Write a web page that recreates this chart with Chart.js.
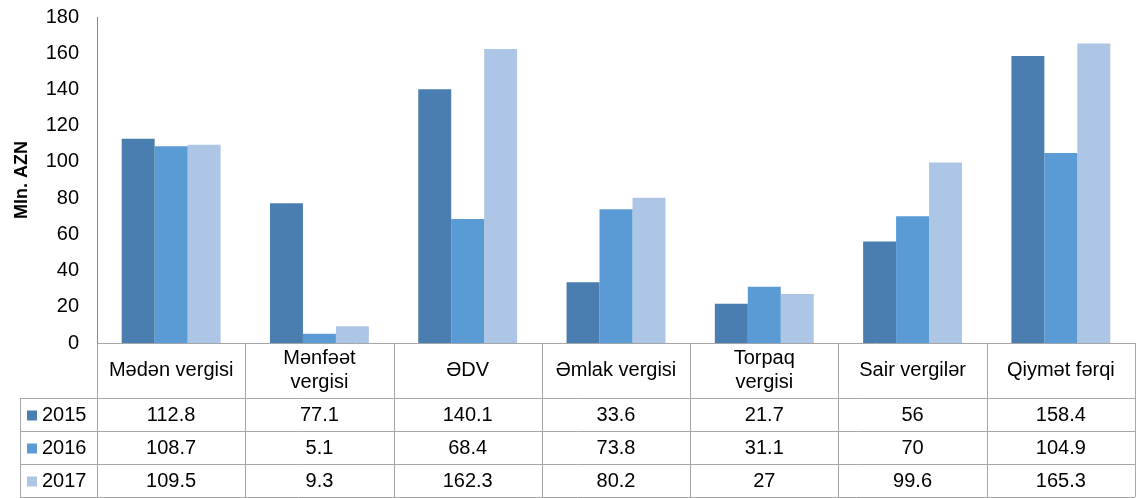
<!DOCTYPE html>
<html>
<head>
<meta charset="utf-8">
<script src="https://cdn.jsdelivr.net/npm/chart.js@4/dist/chart.umd.min.js"></script>
<style>
  html, body { margin: 0; padding: 0; background: #fff; }
  #wrap { width: 1137px; height: 498px; position: relative; }
</style>
</head>
<body>
<div id="wrap"><canvas id="myChart" width="1137" height="498"></canvas></div>
<script>
var ctx = document.getElementById("myChart").getContext('2d');

const categories = ['Mədən vergisi', ['Mənfəət', 'vergisi'], 'ƏDV', 'Əmlak vergisi', ['Torpaq', 'vergisi'], 'Sair vergilər', 'Qiymət fərqi'];
const years = ['2015', '2016', '2017'];
const votes2015 = [112.8, 77.1, 140.1, 33.6, 21.7, 56, 158.4];
const votes2016 = [108.7, 5.1, 68.4, 73.8, 31.1, 70, 104.9];
const votes2017 = [109.5, 9.3, 162.3, 80.2, 27, 99.6, 165.3];
const yTicks = [0, 20, 40, 60, 80, 100, 120, 140, 160, 180];
const colors = ['#4a7eb0', '#5b9bd5', '#adc6e6'];

const FONT = 'Arial, "Liberation Sans", sans-serif';

// draws the data table under the plot, using the x scale for column centers
const tablePlugin = {
  id: 'dataTable',
  afterDraw(chart) {
    const c = chart.ctx;
    const area = chart.chartArea;
    const xs = chart.scales.x;
    const top = area.bottom;
    const headH = 55;
    const rowH = 33;
    const left = 20;
    const colW = (area.right - area.left) / categories.length;
    const rows = [votes2015, votes2016, votes2017];
    c.save();
    c.strokeStyle = '#a6a6a6';
    c.lineWidth = 1;
    c.beginPath();
    c.moveTo(area.left, top + 0.5); c.lineTo(area.right, top + 0.5);
    for (let r = 0; r <= rows.length; r++) {
      const y = Math.round(top + headH + r * rowH) + 0.5;
      c.moveTo(left, y); c.lineTo(area.right, y);
    }
    const bottom = top + headH + rows.length * rowH;
    c.moveTo(left + 0.5, top + headH); c.lineTo(left + 0.5, bottom);
    for (let i = 0; i <= categories.length; i++) {
      const x = Math.round(area.left + i * colW) + 0.5;
      c.moveTo(x, top); c.lineTo(x, bottom);
    }
    c.stroke();

    c.fillStyle = '#000';
    c.font = '20px ' + FONT;
    c.textAlign = 'center';
    c.textBaseline = 'middle';
    categories.forEach((cat, i) => {
      const cx = xs.getPixelForValue(i);
      const lines = Array.isArray(cat) ? cat : [cat];
      const lh = 24;
      lines.forEach((ln, k) => {
        c.fillText(ln, cx, top + headH / 2 + (k - (lines.length - 1) / 2) * lh);
      });
    });
    rows.forEach((vals, r) => {
      const cy = top + headH + r * rowH + rowH / 2 + 1;
      vals.forEach((v, i) => {
        c.fillText(String(v), xs.getPixelForValue(i), cy);
      });
      c.fillStyle = colors[r];
      c.fillRect(27, cy - 5, 10, 10);
      c.fillStyle = '#000';
      c.textAlign = 'left';
      c.fillText(years[r], 42, cy);
      c.textAlign = 'center';
    });
    c.restore();
  }
};

new Chart(ctx, {
  type: 'bar',
  data: {
    labels: categories,
    datasets: [
      { label: years[0], data: votes2015, backgroundColor: colors[0] },
      { label: years[1], data: votes2016, backgroundColor: colors[1] },
      { label: years[2], data: votes2017, backgroundColor: colors[2] }
    ]
  },
  options: {
    responsive: false,
    animation: false,
    layout: { padding: { top: 17, right: 2, bottom: 155, left: 0 } },
    datasets: { bar: { categoryPercentage: 0.667, barPercentage: 1.0 } },
    plugins: { legend: { display: false }, tooltip: { enabled: false } },
    scales: {
      x: { display: false },
      y: {
        min: 0,
        max: 180,
        afterBuildTicks: (s) => { s.ticks = yTicks.map(v => ({ value: v })); },
        afterFit: (s) => { s.width = 97; s.paddingTop = 0; s.paddingBottom = 0; },
        grid: { display: false },
        border: { display: true, color: '#868686' },
        ticks: { color: '#000', font: { size: 20, family: FONT }, padding: 10 },
        title: { display: true, text: 'Mln. AZN', color: '#000', font: { size: 18, weight: 'bold', family: FONT }, padding: { top: 11, bottom: 4 } }
      }
    }
  },
  plugins: [tablePlugin]
});
</script>
</body>
</html>
